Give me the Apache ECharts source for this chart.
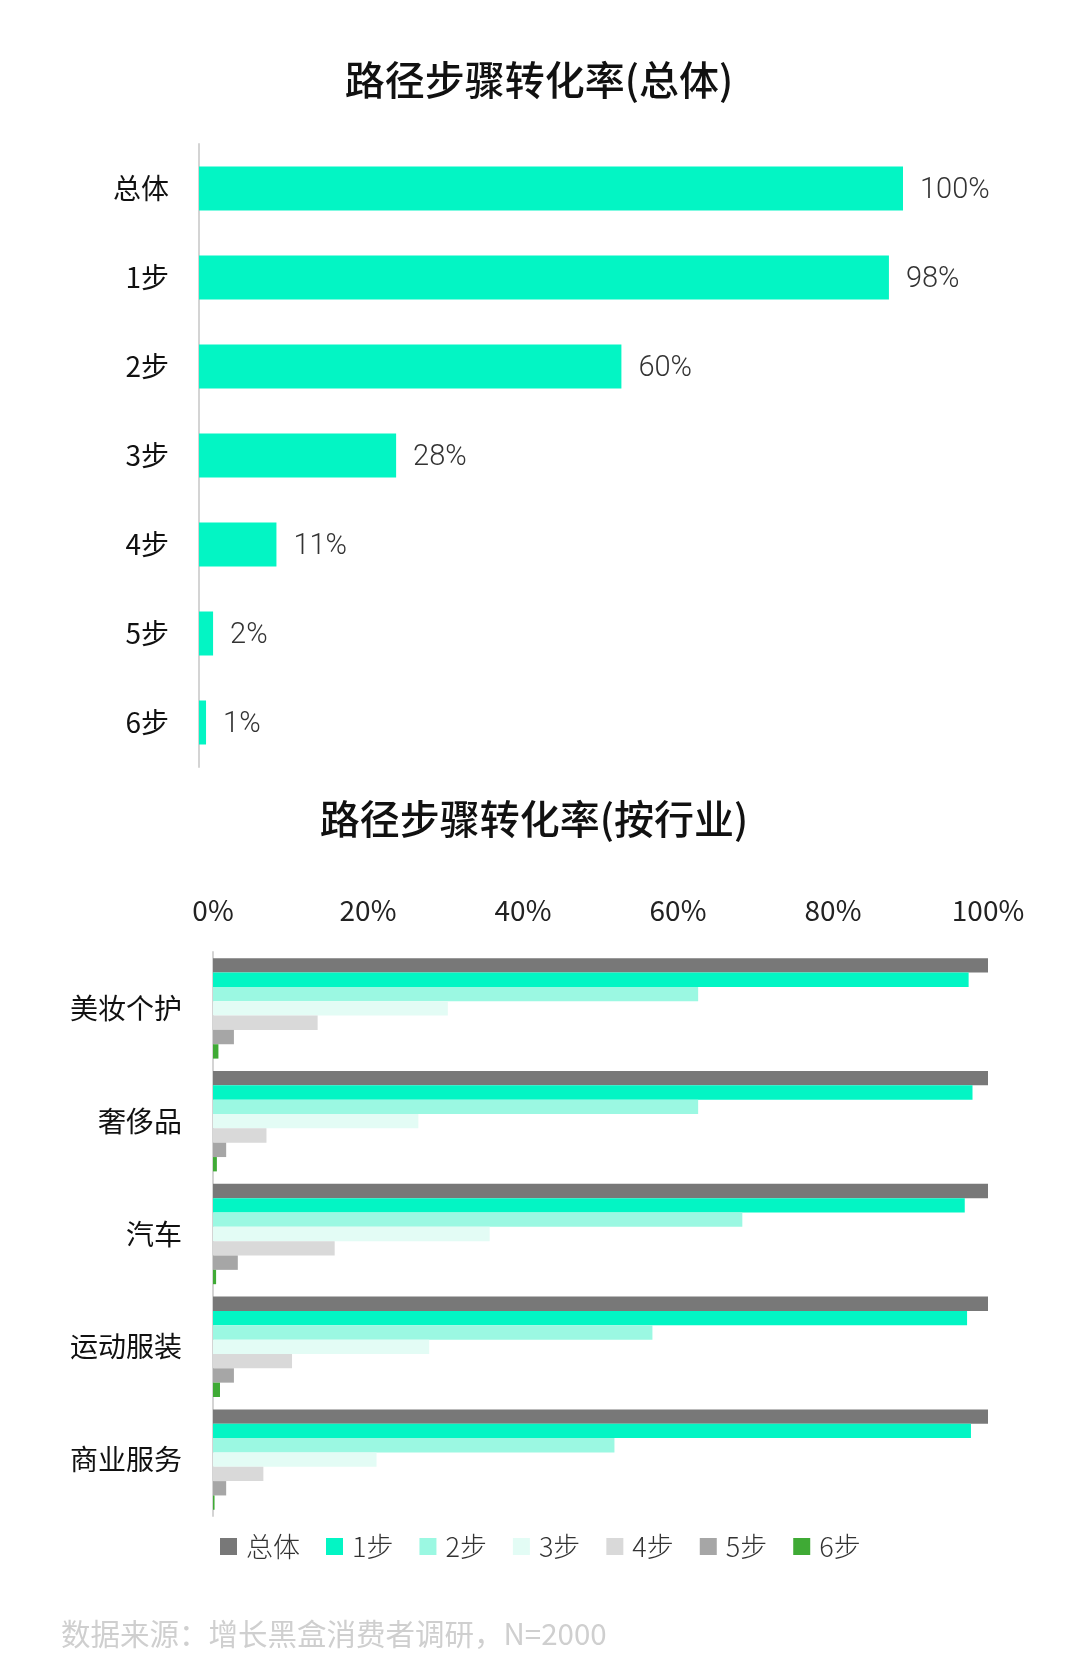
<!DOCTYPE html>
<html>
<head>
<meta charset="utf-8">
<script src="https://cdn.jsdelivr.net/npm/echarts@6/dist/echarts.min.js"></script>
<style>
html,body{margin:0;padding:0;background:#fff;}
#c{width:1080px;height:1677px;}
</style>
</head>
<body>
<div id="c"></div>
<script>
// ---- data ----
const topTitle = '路径步骤转化率(总体)';
const bottomTitle = '路径步骤转化率(按行业)';
const steps = ['总体', '1步', '2步', '3步', '4步', '5步', '6步'];
const overallValues = [100, 98, 60, 28, 11, 2, 1];
const industries = ['美妆个护', '奢侈品', '汽车', '运动服装', '商业服务'];
const seriesTotal = [100, 100, 100, 100, 100];
const series1 = [97.5, 98.0, 97.0, 97.3, 97.8];
const series2 = [62.6, 62.6, 68.3, 56.7, 51.8];
const series3 = [30.3, 26.5, 35.7, 27.9, 21.1];
const series4 = [13.5, 6.9, 15.7, 10.2, 6.5];
const series5 = [2.7, 1.7, 3.2, 2.7, 1.7];
const series6 = [0.7, 0.5, 0.4, 0.9, 0.2];
const industrySeries = [seriesTotal, series1, series2, series3, series4, series5, series6];
const colors = ['#787878', '#03F5C4', '#9BF8E2', '#E3FCF5', '#D9D9D9', '#A6A6A6', '#3FAA35'];
const sourceText = '数据来源：增长黑盒消费者调研，N=2000';

const FONT = '"Noto Sans CJK SC", "Noto Sans", sans-serif';
const NUMFONT = 'Roboto, "Noto Sans CJK SC", sans-serif';

const chart = echarts.init(document.getElementById('c'), null, {renderer: 'canvas'});

const option = {
  backgroundColor: '#ffffff',
  textStyle: {fontFamily: FONT},
  legend: {
    top: 1528, left: 215,
    itemWidth: 17, itemHeight: 17, itemGap: 26,
    icon: 'rect',
    textStyle: {fontSize: 27, color: '#333', fontWeight: 300, fontFamily: FONT, padding: [0, 0, 0, 4]},
    data: steps
  },
  grid: [
    {left: 199, right: 177, top: 144, height: 623, containLabel: false},
    {left: 213, right: 92, top: 952, height: 564, containLabel: false}
  ],
  xAxis: [
    {gridIndex: 0, type: 'value', min: 0, max: 100, show: false},
    {gridIndex: 1, type: 'value', min: 0, max: 100, interval: 20, position: 'top',
     axisLine: {show: false}, axisTick: {show: false}, splitLine: {show: false},
     axisLabel: {formatter: '{value}%', fontSize: 28, color: '#222', margin: 28, fontFamily: FONT}}
  ],
  yAxis: [
    {gridIndex: 0, type: 'category', data: steps, inverse: true,
     axisLine: {show: true, lineStyle: {color: '#d4d4d4', width: 2}},
     axisTick: {show: false},
     axisLabel: {fontSize: 28, color: '#111', margin: 30, fontFamily: FONT}},
    {gridIndex: 1, type: 'category', data: industries, inverse: true,
     axisLine: {show: true, lineStyle: {color: '#d4d4d4', width: 2}},
     axisTick: {show: false},
     axisLabel: {fontSize: 28, color: '#111', margin: 31, fontFamily: FONT}}
  ],
  series: [
    {
      type: 'bar', xAxisIndex: 0, yAxisIndex: 0, data: overallValues,
      barWidth: 44, itemStyle: {color: colors[1]},
      label: {show: true, position: 'right', distance: 17, offset: [0, 2], formatter: '{c}%',
              fontSize: 29, color: '#333', fontWeight: 300, fontFamily: NUMFONT},
      legendHoverLink: false, silent: true
    }
  ].concat(steps.map((name, i) => ({
    name: name, type: 'bar', xAxisIndex: 1, yAxisIndex: 1,
    data: industrySeries[i],
    barGap: 0, barCategoryGap: '11%',
    itemStyle: {color: colors[i]},
    silent: true
  }))),
  graphic: [
    {type: 'text', x: 539, y: 80,
     style: {text: topTitle, fontSize: 40, fontWeight: 500, fill: '#111', fontFamily: FONT,
             textAlign: 'center', textVerticalAlign: 'middle'}},
    {type: 'text', x: 534, y: 819,
     style: {text: bottomTitle, fontSize: 40, fontWeight: 500, fill: '#111', fontFamily: FONT,
             textAlign: 'center', textVerticalAlign: 'middle'}},
    {type: 'text', x: 61, y: 1634,
     style: {text: sourceText, fontSize: 29.5, fill: '#cfcfcf', fontFamily: FONT,
             textAlign: 'left', textVerticalAlign: 'middle'}}
  ],
  animation: false
};
chart.setOption(option);
</script>
</body>
</html>
